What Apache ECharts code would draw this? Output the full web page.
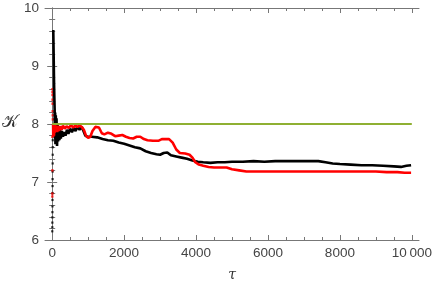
<!DOCTYPE html>
<html>
<head>
<meta charset="utf-8">
<script src="https://cdn.jsdelivr.net/npm/echarts@6/dist/echarts.min.js"></script>
<style>html,body{margin:0;padding:0;background:#fff}#c{width:432px;height:285px}</style>
</head>
<body>
<div id="c"></div>
<script>
// ---- data ----
const xMajorTicks = [0, 2000, 4000, 6000, 8000, 10000];
const xMinorTicks = [500, 1000, 1500, 2500, 3000, 3500, 4500, 5000, 5500, 6500, 7000, 7500, 8500, 9000, 9500];
const yTickLabels = [6, 7, 8, 9, 10];
const xTitle = 'τ';
const yTitle = '𝒦';

const blackDotTau = [2, 3, 4, 5, 6, 7, 8, 9, 10, 11, 12, 13, 14, 15, 16];
const blackDotVal = [6.15, 6.22, 6.3, 6.39, 6.48, 6.58, 6.69, 6.81, 6.93, 7.05, 7.18, 7.32, 7.47, 7.6, 7.72];

const redDotTau = [3, 4, 5, 6, 7, 8, 9, 10, 12, 14, 16, 18];
const redDotVal = [6.75, 6.8, 7.2, 7.78, 8.6, 8.55, 8.5, 8.42, 8.35, 8.22, 8.15, 8.08];

const blackTau = [30, 38, 45, 52, 60, 68, 75, 82, 90, 100, 110, 120, 135, 150, 165, 180, 200, 220, 240, 270, 300, 330, 370, 410, 450, 500, 550, 600, 650, 700, 760, 820, 870, 920, 980, 1100, 1250, 1400, 1550, 1700, 1850, 2000, 2150, 2300, 2450, 2600, 2750, 2900, 3000, 3100, 3200, 3300, 3450, 3600, 3750, 3900, 4050, 4200, 4400, 4600, 4800, 5000, 5300, 5600, 5900, 6200, 6500, 6800, 7100, 7400, 7600, 7800, 8000, 8300, 8600, 8900, 9200, 9500, 9700, 9850, 9980];
const blackVal = [9.62, 9.3, 9.0, 8.7, 8.45, 8.25, 7.75, 8.2, 7.65, 8.15, 7.7, 8.1, 7.62, 8.0, 7.7, 7.95, 7.72, 7.9, 7.75, 7.88, 7.78, 7.86, 7.8, 7.9, 7.83, 7.92, 7.86, 7.93, 7.88, 7.95, 7.9, 7.95, 7.88, 7.8, 7.78, 7.78, 7.77, 7.74, 7.72, 7.71, 7.68, 7.66, 7.63, 7.6, 7.58, 7.53, 7.5, 7.48, 7.47, 7.5, 7.51, 7.46, 7.44, 7.42, 7.4, 7.37, 7.35, 7.34, 7.33, 7.34, 7.34, 7.35, 7.35, 7.36, 7.35, 7.36, 7.36, 7.36, 7.36, 7.36, 7.34, 7.32, 7.31, 7.3, 7.29, 7.29, 7.28, 7.27, 7.26, 7.28, 7.29];

const redTau = [25, 30, 40, 50, 60, 70, 85, 100, 120, 140, 160, 190, 220, 260, 300, 350, 400, 460, 520, 580, 640, 700, 760, 820, 880, 940, 1000, 1060, 1120, 1200, 1300, 1380, 1450, 1550, 1650, 1750, 1850, 1950, 2050, 2150, 2250, 2350, 2450, 2550, 2650, 2800, 2950, 3050, 3150, 3250, 3350, 3450, 3550, 3700, 3820, 3900, 3980, 4080, 4200, 4350, 4500, 4700, 4850, 5000, 5200, 5400, 5700, 6000, 6300, 6600, 6900, 7200, 7500, 7800, 8100, 8400, 8700, 9000, 9300, 9600, 9800, 9980];
const redVal = [8.0, 7.78, 7.98, 7.8, 7.95, 7.85, 7.98, 7.88, 7.95, 7.86, 7.97, 7.88, 7.96, 7.9, 7.97, 7.92, 7.96, 7.93, 7.98, 7.94, 7.97, 7.95, 7.98, 7.95, 7.9, 7.8, 7.76, 7.78, 7.88, 7.95, 7.94, 7.84, 7.82, 7.85, 7.83, 7.79, 7.8, 7.81, 7.78, 7.76, 7.75, 7.78, 7.78, 7.74, 7.72, 7.71, 7.71, 7.74, 7.74, 7.74, 7.68, 7.56, 7.5, 7.49, 7.47, 7.42, 7.34, 7.3, 7.28, 7.26, 7.25, 7.25, 7.25, 7.22, 7.2, 7.18, 7.18, 7.18, 7.18, 7.18, 7.18, 7.18, 7.18, 7.18, 7.18, 7.18, 7.18, 7.18, 7.17, 7.17, 7.16, 7.16];

const greenTau = [0, 10000];
const greenVal = [8, 8];

// ---- chart ----
const pairs = (a, b) => a.map((t, i) => [t, b[i]]);
const frameColor = '#777';
const labelFont = { color: '#444', fontSize: 13.5, fontFamily: 'Liberation Sans, Arial, sans-serif' };
const fmtX = v => v >= 10000 ? String(v).replace(/(\d+)(\d{3})$/, '$1\u2009$2') : String(v);

const xBase = { type: 'value', gridIndex: 0, min: -200, max: 10200, splitLine: { show: false } };
const yBase = { type: 'value', gridIndex: 0, min: 6, max: 10, interval: 1, splitLine: { show: false } };

const chart = echarts.init(document.getElementById('c'), null, { renderer: 'canvas' });
chart.setOption({
  animation: false,
  backgroundColor: '#fff',
  grid: { left: 45, right: 13, top: 8, bottom: 45, containLabel: false, outerBoundsMode: 'none' },
  graphic: [
    { type: 'text', left: 2, top: 114, z: 10,
      style: { text: yTitle, fontFamily: 'DejaVu Serif, serif', fontSize: 17, fill: '#333' } }
  ],
  xAxis: [
    Object.assign({}, xBase, {
      position: 'bottom',
      axisLine: { show: true, lineStyle: { color: frameColor, width: 1 } },
      axisTick: { show: true, inside: true, length: 5, customValues: xMajorTicks, lineStyle: { color: frameColor } },
      axisLabel: Object.assign({ show: true, margin: 6, customValues: xMajorTicks, formatter: fmtX }, labelFont),
      name: xTitle, nameLocation: 'middle', nameGap: 28,
      nameTextStyle: { fontFamily: 'DejaVu Serif, serif', fontStyle: 'italic', fontSize: 14, color: '#333' }
    }),
    Object.assign({}, xBase, {
      position: 'bottom',
      axisLine: { show: false },
      axisTick: { show: true, inside: true, length: 3, customValues: xMinorTicks, lineStyle: { color: frameColor } },
      axisLabel: { show: false }
    }),
    Object.assign({}, xBase, {
      position: 'top',
      axisLine: { show: true, lineStyle: { color: frameColor, width: 1 } },
      axisTick: { show: true, inside: true, length: 5, customValues: xMajorTicks, lineStyle: { color: frameColor } },
      axisLabel: { show: false }
    }),
    Object.assign({}, xBase, {
      position: 'top',
      axisLine: { show: false },
      axisTick: { show: true, inside: true, length: 3, customValues: xMinorTicks, lineStyle: { color: frameColor } },
      axisLabel: { show: false }
    })
  ],
  yAxis: [
    Object.assign({}, yBase, {
      position: 'left',
      axisLine: { show: true, lineStyle: { color: frameColor, width: 1 } },
      axisTick: { show: true, inside: true, length: 5, lineStyle: { color: frameColor } },
      minorTick: { show: true, splitNumber: 5, length: 3, lineStyle: { color: frameColor } },
      axisLabel: Object.assign({ show: true, margin: 6, customValues: yTickLabels }, labelFont)
    }),
    Object.assign({}, yBase, {
      position: 'right',
      axisLine: { show: true, lineStyle: { color: frameColor, width: 1 } },
      axisTick: { show: true, inside: true, length: 5, lineStyle: { color: frameColor } },
      minorTick: { show: true, splitNumber: 5, length: 3, lineStyle: { color: frameColor } },
      axisLabel: { show: false }
    })
  ],
  series: [
    { type: 'scatter', xAxisIndex: 0, yAxisIndex: 0, symbol: 'rect', symbolSize: 2.2,
      itemStyle: { color: '#000' }, data: pairs(blackDotTau, blackDotVal) },
    { type: 'line', xAxisIndex: 0, yAxisIndex: 0, showSymbol: false, symbol: 'none',
      lineStyle: { color: '#000', width: 2.6 }, data: pairs(blackTau, blackVal) },
    { type: 'scatter', xAxisIndex: 0, yAxisIndex: 0, symbol: 'rect', symbolSize: 2.4,
      itemStyle: { color: '#ff0000' }, data: pairs(redDotTau, redDotVal) },
    { type: 'line', xAxisIndex: 0, yAxisIndex: 0, showSymbol: false, symbol: 'none',
      lineStyle: { color: '#ff0000', width: 2.6 }, data: pairs(redTau, redVal) },
    { type: 'line', xAxisIndex: 0, yAxisIndex: 0, showSymbol: false, symbol: 'none',
      lineStyle: { color: '#8fb032', width: 2 }, data: pairs(greenTau, greenVal) }
  ]
});
</script>
</body>
</html>
